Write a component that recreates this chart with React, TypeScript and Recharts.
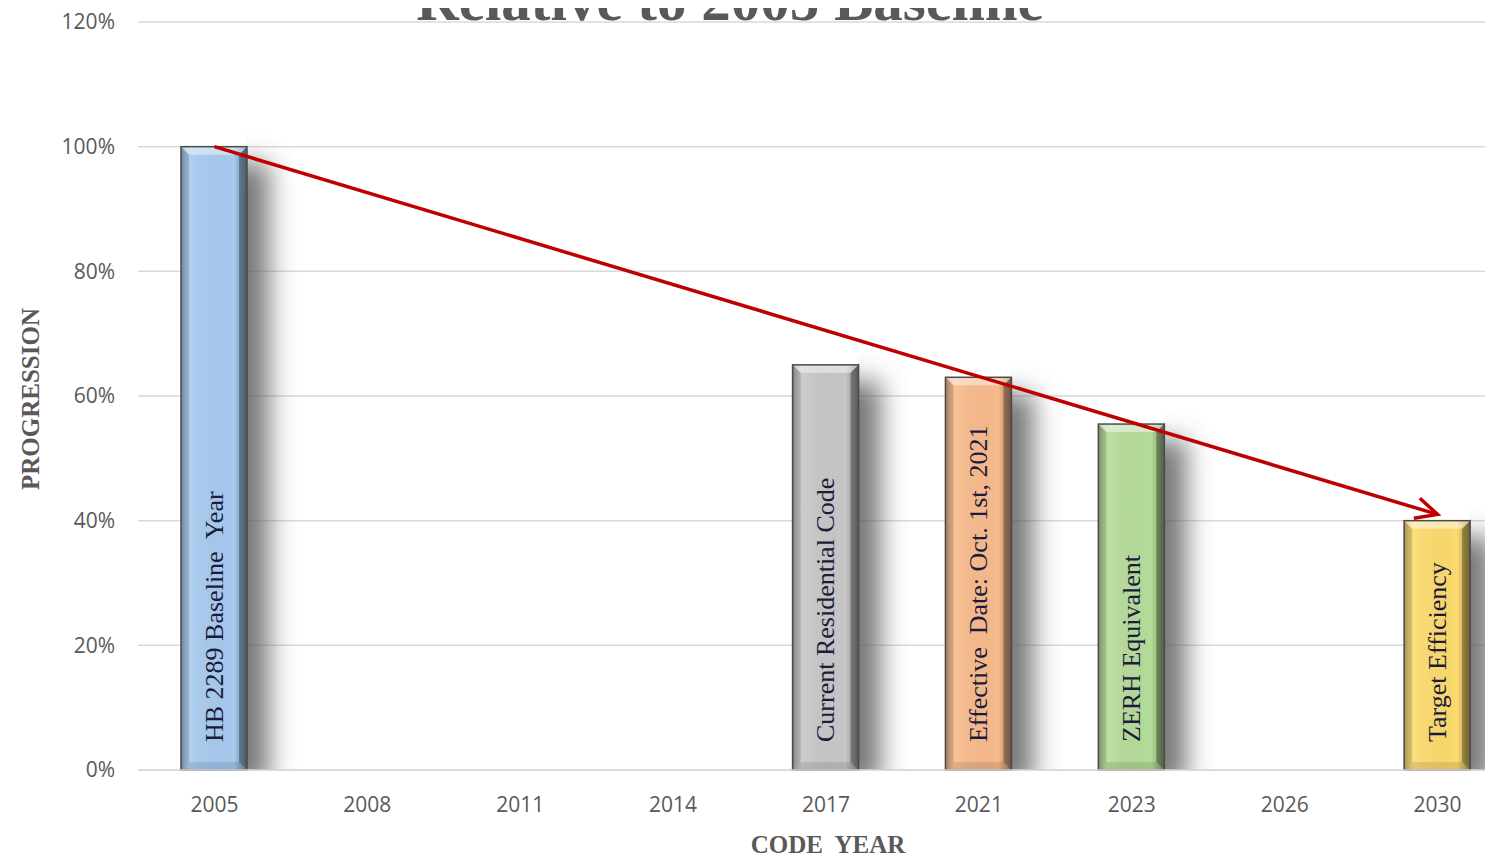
import { BarChart, Bar, XAxis, YAxis, CartesianGrid, ReferenceLine } from 'recharts'

const years = ['2005', '2008', '2011', '2014', '2017', '2021', '2023', '2026', '2030']
const progression = [100, null, null, null, 65, 63, 55.5, null, 40]
const barNotes = [
  'HB 2289 Baseline  Year',
  '',
  '',
  '',
  'Current Residential Code',
  'Effective  Date: Oct. 1st, 2021',
  'ZERH Equivalent',
  '',
  'Target Efficiency',
]
const barColors = ['#a6caef', '', '', '', '#c7c7c7', '#f8ba8c', '#b5dc99', '', '#fcdb6d']
const yTicks = [0, 20, 40, 60, 80, 100, 120]
const trendFrom = { year: '2005', value: 100 }
const trendTo = { year: '2030', value: 41 }

const data = years.map((y, i) => ({ year: y, value: progression[i], note: barNotes[i], color: barColors[i] }))

const serif = '"Liberation Serif", "Times New Roman", serif'
const sans = '"Open Sans", "Liberation Sans", sans-serif'
const grey = '#595959'

function BevelBar(props: any) {
  const { x, y, width: w, height: h, payload, index } = props
  if (!h || h <= 0) return null
  const b = 8
  const clipId = `shadowClip${index}`
  return (
    <g>
      <clipPath id={clipId}>
        <rect x={x + w - 1} y={y - 30} width={100} height={h + 30} />
      </clipPath>
      <g clipPath={`url(#${clipId})`}>
        <rect x={x + 10} y={y + 16} width={w + 12} height={h} fill="#555" fillOpacity={0.8} filter="url(#barBlur)" />
      </g>
      <rect x={x} y={y} width={w} height={h} fill={payload.color} />
      <rect x={x} y={y} width={w} height={h} fill="url(#edgeGrad)" />
      <polygon points={`${x},${y} ${x + w},${y} ${x + w - b},${y + b} ${x + b},${y + b}`} fill="#fff" fillOpacity={0.45} />
      <polygon points={`${x + b},${y + h - b} ${x + w - b},${y + h - b} ${x + w},${y + h} ${x},${y + h}`} fill="#000" fillOpacity={0.1} />
      <polygon points={`${x},${y} ${x + b},${y + b} ${x + b},${y + h - b} ${x},${y + h}`} fill="#000" fillOpacity={0.12} />
      <polygon points={`${x + w},${y} ${x + w - b},${y + b} ${x + w - b},${y + h - b} ${x + w},${y + h}`} fill="#000" fillOpacity={0.3} />
      <rect x={x} y={y} width={w} height={h} fill="none" stroke="#4a4a4a" strokeWidth={1.5} />
      <text
        x={x + w / 2}
        y={y + h - 28}
        transform={`rotate(-90 ${x + w / 2} ${y + h - 28})`}
        textAnchor="start"
        dominantBaseline="central"
        fontFamily={serif}
        fontSize={26}
        fill="#1c1c3a"
        style={{ whiteSpace: 'pre' }}
      >
        {payload.note}
      </text>
    </g>
  )
}

function TrendArrow(props: any) {
  const { x1, y1, x2, y2 } = props
  if (x1 == null) return null
  const ang = Math.atan2(y2 - y1, x2 - x1)
  const len = 24
  const spread = 0.45
  const ax = x2 - len * Math.cos(ang - spread)
  const ay = y2 - len * Math.sin(ang - spread)
  const bx = x2 - len * Math.cos(ang + spread)
  const by = y2 - len * Math.sin(ang + spread)
  return (
    <g>
      <line x1={x1} y1={y1} x2={x2} y2={y2} stroke="#c00000" strokeWidth={3.5} />
      <polyline points={`${ax},${ay} ${x2},${y2} ${bx},${by}`} fill="none" stroke="#c00000" strokeWidth={3.5} strokeLinejoin="miter" />
    </g>
  )
}

export default function App() {
  return (
    <div style={{ position: 'relative', width: 1477, height: 849, overflow: 'hidden' }}>
      <BarChart width={1510} height={849} data={data} margin={{ top: 14, right: 4, left: 0, bottom: 0 }}>
        <defs>
          <filter id="barBlur" x="-100%" y="-20%" width="300%" height="140%">
            <feGaussianBlur stdDeviation="13" />
          </filter>
          <linearGradient id="edgeGrad" x1="0" y1="0" x2="1" y2="0">
            <stop offset="0" stopColor="#000" stopOpacity={0.25} />
            <stop offset="0.15" stopColor="#fff" stopOpacity={0.1} />
            <stop offset="0.8" stopColor="#000" stopOpacity={0} />
            <stop offset="1" stopColor="#000" stopOpacity={0.35} />
          </linearGradient>
        </defs>
        <CartesianGrid vertical={false} stroke="#d9d9d9" strokeWidth={1.5} />
        <XAxis
          dataKey="year"
          height={87}
          tickSize={0}
          tickMargin={27}
          axisLine={{ stroke: '#d9d9d9', strokeWidth: 1.5 }}
          tick={{ fill: grey, fontSize: 21, fontFamily: sans }}
        />
        <YAxis
          width={130}
          domain={[0, 120]}
          ticks={yTicks}
          tickFormatter={(v: number) => `${v}%`}
          tickSize={0}
          tickMargin={23}
          axisLine={false}
          tick={{ fill: grey, fontSize: 21, fontFamily: sans }}
        />
        <Bar dataKey="value" barSize={66} shape={<BevelBar />} isAnimationActive={false} />
        <ReferenceLine
          segment={[
            { x: trendFrom.year, y: trendFrom.value },
            { x: trendTo.year, y: trendTo.value },
          ]}
          ifOverflow="visible"
          shape={<TrendArrow />}
        />
      </BarChart>
      <svg width={1477} height={849} style={{ position: 'absolute', left: 0, top: 0, pointerEvents: 'none' }}>
        <text x={722} y={12} textAnchor="middle" fontFamily={serif} fontWeight="bold" fontSize={59} fill={grey}>
          Relative to 2005 Baseline
        </text>
        <text
          x={22}
          y={391}
          transform="rotate(-90 22 391)"
          textAnchor="middle"
          dominantBaseline="central"
          fontFamily={serif}
          fontWeight="bold"
          fontSize={25}
          fill={grey}
        >
          PROGRESSION
        </text>
        <text x={820} y={845} textAnchor="middle" fontFamily={serif} fontWeight="bold" fontSize={25} fill={grey} style={{ whiteSpace: 'pre' }}>
          CODE  YEAR
        </text>
      </svg>
    </div>
  )
}
